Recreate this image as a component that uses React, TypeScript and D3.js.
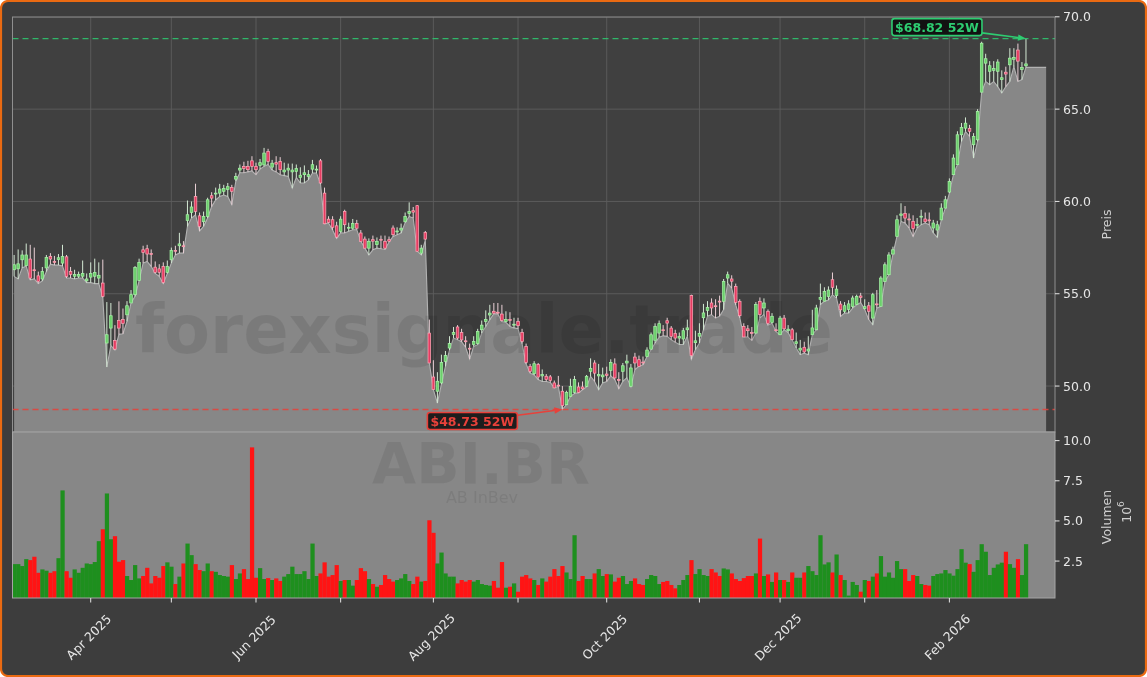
import React from "react";
import * as d3 from "d3";

// ---- calendar (Euronext Brussels trading days) ----
const START_DATE = "2025-03-05";
const END_DATE = "2026-02-27";
const HOLIDAYS = ["2025-04-18", "2025-04-21", "2025-05-01", "2025-12-25", "2025-12-26", "2026-01-01"];

// ---- daily OHLC (EUR) ----
const open = [
  56.30, 56.35, 56.84, 56.52, 56.88, 56.30, 55.97, 55.80, 56.40, 57.02,
  56.75, 56.85, 56.66, 57.00, 56.20, 55.95, 55.95, 55.95, 55.70, 55.90,
  55.95, 55.85, 55.58, 52.33, 53.14, 52.47, 53.56, 53.60, 53.86, 54.50,
  54.95, 55.72, 57.38, 57.44, 57.18, 56.44, 56.35, 56.48, 56.16, 56.84,
  57.35, 57.60, 57.60, 58.97, 59.40, 60.27, 59.22, 58.90, 59.19, 60.31,
  60.40, 60.45, 60.55, 60.65, 60.75, 61.21, 61.70, 61.90, 61.90, 62.20,
  61.90, 61.95, 61.98, 62.71, 61.86, 62.10, 62.17, 61.60, 61.70, 61.60,
  61.62, 61.30, 61.45, 61.35, 61.75, 61.70, 62.20, 60.45, 59.04, 59.01,
  58.68, 58.38, 59.46, 58.55, 58.55, 58.80, 58.29, 57.96, 57.47, 57.93,
  57.66, 57.95, 57.84, 57.93, 58.56, 58.35, 58.45, 58.90, 59.35, 59.50,
  59.77, 57.20, 58.32, 52.87, 50.49, 49.72, 50.17, 51.34, 52.06, 52.80,
  53.20, 52.90, 52.45, 52.05, 52.25, 52.30, 53.05, 53.50, 53.85, 54.05,
  54.00, 53.90, 53.50, 53.60, 53.30, 53.50, 52.91, 52.15, 51.07, 50.67,
  51.16, 50.55, 50.53, 50.50, 50.17, 50.05, 49.72, 48.99, 49.44, 49.66,
  49.95, 49.95, 49.98, 50.80, 51.25, 50.55, 50.50, 50.65, 50.85, 51.20,
  50.35, 50.80, 51.25, 49.99, 51.57, 51.43, 51.30, 51.60, 52.00, 52.48,
  52.87, 53.05, 53.54, 53.14, 52.85, 52.60, 52.55, 53.05, 54.90, 52.35,
  52.70, 53.70, 54.10, 54.50, 54.35, 54.60, 54.59, 55.85, 55.80, 55.40,
  54.59, 53.23, 53.10, 52.90, 52.87, 54.59, 54.23, 54.05, 53.45, 53.05,
  52.78, 53.68, 53.00, 53.05, 52.30, 51.95, 52.10, 51.90, 52.78, 53.05,
  54.70, 54.60, 54.85, 55.76, 54.90, 54.44, 54.05, 54.15, 54.31, 54.41,
  54.88, 54.20, 54.35, 53.68, 54.45, 54.32, 55.67, 56.03, 57.15, 58.11,
  59.25, 59.35, 59.05, 58.92, 58.70, 59.15, 59.05, 59.00, 58.56, 58.45,
  59.00, 59.64, 60.51, 61.45, 61.99, 63.61, 63.97, 63.95, 63.07, 63.34,
  65.92, 67.49, 67.05, 67.10, 67.05, 66.60, 67.00, 67.40, 67.70, 68.20,
  67.15, 67.35,
];
const high = [
  57.10, 57.40, 57.35, 57.72, 57.65, 57.50, 56.20, 56.45, 57.10, 57.20,
  57.05, 57.15, 57.65, 57.10, 56.45, 56.30, 56.20, 56.80, 56.10, 56.70,
  56.90, 56.70, 56.85, 54.55, 54.50, 53.30, 54.59, 54.20, 54.60, 55.20,
  56.50, 56.90, 57.60, 57.65, 57.40, 56.75, 56.60, 56.70, 56.80, 57.50,
  57.60, 58.30, 57.85, 60.05, 60.00, 60.96, 59.40, 59.45, 60.20, 60.50,
  60.75, 60.95, 60.90, 61.00, 60.90, 61.55, 62.00, 62.15, 62.20, 62.45,
  62.10, 62.30, 62.90, 62.85, 62.25, 62.45, 62.40, 62.10, 62.05, 62.05,
  62.00, 61.85, 61.95, 61.70, 62.25, 61.95, 62.30, 60.75, 59.20, 59.20,
  58.90, 59.20, 59.55, 58.85, 59.05, 59.00, 58.45, 58.10, 58.00, 58.15,
  58.05, 58.15, 58.15, 58.10, 58.70, 58.60, 58.80, 59.40, 59.95, 59.70,
  59.80, 57.65, 58.40, 53.60, 51.40, 50.75, 51.70, 51.90, 52.70, 53.20,
  53.30, 53.10, 52.70, 52.30, 52.70, 53.10, 53.55, 54.10, 54.40, 54.50,
  54.50, 54.40, 54.05, 54.00, 53.70, 53.70, 53.10, 52.30, 51.20, 51.35,
  51.25, 50.90, 50.65, 50.60, 50.30, 50.55, 50.00, 49.75, 50.40, 50.55,
  50.20, 50.25, 50.60, 51.50, 51.40, 51.20, 51.00, 51.05, 51.45, 51.50,
  50.75, 51.25, 51.70, 51.20, 51.80, 51.65, 51.60, 52.10, 52.90, 53.40,
  53.55, 53.30, 53.70, 53.25, 53.05, 52.90, 53.15, 53.60, 54.95, 53.00,
  53.40, 54.45, 54.60, 54.75, 54.70, 54.90, 55.80, 56.20, 56.00, 55.55,
  54.70, 53.40, 53.30, 53.20, 54.55, 54.80, 54.75, 54.15, 53.95, 53.40,
  53.80, 53.85, 53.30, 53.15, 52.90, 52.50, 52.40, 52.70, 54.13, 54.40,
  55.55, 55.35, 55.40, 56.15, 55.45, 54.60, 54.55, 54.65, 54.90, 54.95,
  55.05, 54.70, 54.55, 55.05, 55.20, 55.95, 56.70, 57.25, 57.55, 59.25,
  59.90, 59.75, 59.35, 59.25, 59.10, 59.55, 59.40, 59.40, 59.00, 58.95,
  59.90, 60.30, 61.25, 62.55, 63.80, 64.25, 64.55, 64.15, 63.70, 65.00,
  68.65, 68.00, 67.60, 67.60, 67.70, 67.10, 67.30, 68.30, 68.30, 68.55,
  67.55, 68.82,
];
const low = [
  55.94, 55.80, 56.40, 56.50, 55.75, 55.80, 55.55, 55.70, 56.20, 56.60,
  56.55, 56.55, 56.50, 55.85, 55.85, 55.80, 55.85, 55.85, 55.60, 55.60,
  55.55, 55.55, 54.80, 51.03, 52.20, 51.95, 52.80, 52.83, 53.50, 54.50,
  54.86, 55.70, 56.66, 56.75, 56.48, 56.10, 55.94, 55.55, 56.10, 56.66,
  57.10, 57.20, 57.20, 58.65, 59.10, 59.28, 58.40, 58.65, 59.10, 59.72,
  60.08, 60.27, 60.35, 60.27, 59.82, 61.10, 61.55, 61.55, 61.60, 61.65,
  61.45, 61.75, 61.90, 62.00, 61.70, 61.60, 61.45, 61.40, 61.35, 60.72,
  61.30, 61.00, 61.00, 61.17, 61.54, 61.54, 60.95, 58.79, 58.83, 58.45,
  58.00, 58.30, 58.29, 58.38, 58.47, 58.47, 57.84, 57.47, 57.10, 57.38,
  57.47, 57.44, 57.40, 57.80, 58.10, 58.20, 58.29, 58.85, 59.19, 59.10,
  57.30, 57.10, 57.90, 51.25, 49.81, 49.08, 50.10, 51.07, 51.95, 52.60,
  52.51, 52.40, 52.10, 51.46, 52.15, 52.24, 52.87, 53.23, 53.59, 53.92,
  53.90, 53.50, 53.45, 53.23, 53.15, 53.10, 52.30, 51.20, 50.70, 50.60,
  50.35, 50.25, 50.25, 50.20, 49.90, 49.98, 48.73, 48.99, 49.44, 49.60,
  49.63, 49.80, 49.95, 50.53, 50.25, 49.80, 50.17, 50.25, 50.55, 50.35,
  49.85, 50.25, 50.45, 49.95, 50.90, 51.07, 51.15, 51.60, 51.97, 52.33,
  52.65, 52.72, 52.69, 52.51, 52.37, 52.25, 52.25, 52.70, 51.45, 51.97,
  52.33, 53.05, 53.78, 53.87, 53.68, 53.78, 54.14, 55.58, 55.30, 54.40,
  53.70, 52.66, 52.66, 52.47, 52.87, 53.70, 53.87, 53.30, 53.40, 52.95,
  52.78, 53.05, 52.90, 52.49, 52.06, 51.70, 51.78, 51.70, 52.78, 53.05,
  54.41, 54.59, 54.66, 54.95, 54.77, 53.77, 53.95, 53.95, 54.22, 54.40,
  54.53, 54.15, 53.60, 53.32, 54.22, 54.32, 55.67, 56.03, 57.15, 58.11,
  58.92, 58.83, 58.56, 58.10, 58.56, 58.74, 58.83, 58.74, 58.30, 58.05,
  59.00, 59.64, 60.45, 61.45, 61.99, 63.25, 63.79, 63.52, 62.35, 63.25,
  65.92, 66.50, 66.32, 66.50, 66.22, 65.87, 66.22, 66.50, 67.30, 66.50,
  66.60, 67.26,
];
const close = [
  56.57, 56.62, 57.10, 57.10, 55.85, 56.25, 55.67, 56.20, 56.97, 56.88,
  56.70, 56.95, 57.02, 55.94, 56.05, 56.05, 56.05, 56.10, 55.80, 56.10,
  56.15, 56.00, 54.86, 52.78, 53.81, 52.00, 53.14, 53.40, 54.35, 54.95,
  56.43, 56.70, 57.24, 57.15, 57.12, 56.16, 56.16, 55.61, 56.48, 57.35,
  57.30, 57.70, 57.55, 59.28, 59.70, 59.46, 58.65, 59.18, 60.09, 60.18,
  60.45, 60.67, 60.70, 60.80, 60.55, 61.35, 61.80, 61.78, 61.72, 61.90,
  61.72, 62.10, 62.62, 62.17, 62.07, 62.02, 61.72, 61.70, 61.80, 61.70,
  61.78, 61.42, 61.55, 61.45, 61.99, 61.75, 61.00, 58.79, 58.86, 58.60,
  58.07, 59.04, 58.74, 58.60, 58.80, 58.55, 57.84, 57.47, 57.84, 57.85,
  57.84, 57.90, 57.47, 57.85, 58.20, 58.40, 58.55, 59.19, 59.45, 59.42,
  57.30, 57.47, 57.96, 51.25, 49.81, 50.26, 51.28, 51.65, 52.30, 52.91,
  52.60, 52.50, 52.40, 52.00, 52.42, 52.96, 53.30, 53.60, 53.95, 53.95,
  53.95, 53.55, 53.60, 53.55, 53.35, 53.27, 52.42, 51.28, 50.80, 51.21,
  50.49, 50.62, 50.35, 50.30, 49.90, 50.00, 48.94, 49.66, 49.98, 50.35,
  49.66, 49.85, 50.53, 50.95, 50.70, 50.62, 50.60, 50.58, 51.28, 50.44,
  50.30, 51.10, 51.35, 50.98, 51.25, 51.07, 51.25, 51.95, 52.78, 53.23,
  53.38, 53.00, 53.41, 52.69, 52.60, 52.68, 53.00, 53.15, 51.65, 52.45,
  52.85, 53.96, 54.25, 54.23, 54.30, 54.55, 55.67, 56.03, 55.68, 54.53,
  53.81, 52.66, 53.00, 52.85, 54.41, 53.87, 54.50, 53.40, 53.78, 53.00,
  53.68, 53.10, 53.08, 52.51, 52.40, 52.05, 51.85, 52.00, 53.15, 54.23,
  54.80, 55.13, 55.20, 55.35, 55.25, 54.13, 54.35, 54.45, 54.77, 54.86,
  54.80, 54.30, 54.05, 54.95, 54.40, 55.85, 56.57, 57.10, 57.38, 59.01,
  59.32, 59.10, 59.00, 58.53, 58.76, 59.20, 58.90, 58.95, 58.83, 58.74,
  59.64, 60.09, 61.08, 62.35, 63.61, 64.01, 64.24, 63.80, 63.52, 64.87,
  68.57, 67.73, 67.35, 67.20, 67.55, 66.70, 66.90, 67.76, 67.80, 67.60,
  67.25, 67.45,
];
// ---- daily volume, millions of shares ----
const volumeM = [
  2.31, 2.31, 2.19, 2.62, 2.56, 2.77, 1.77, 1.98, 1.90, 1.77,
  1.87, 2.68, 6.90, 1.87, 1.46, 1.98, 1.77, 2.08, 2.35, 2.31,
  2.44, 3.74, 4.48, 6.71, 3.86, 4.05, 2.46, 2.56, 1.57, 1.32,
  2.25, 1.42, 1.57, 2.08, 1.11, 1.57, 1.46, 2.19, 2.42, 2.15,
  1.07, 1.53, 2.35, 3.59, 2.87, 2.31, 1.94, 1.87, 2.35, 1.87,
  1.83, 1.63, 1.57, 1.53, 2.25, 1.38, 1.73, 2.00, 1.38, 9.58,
  1.46, 2.06, 1.38, 1.44, 1.32, 1.42, 1.26, 1.53, 1.69, 2.15,
  1.69, 1.69, 1.87, 1.38, 3.59, 1.57, 1.73, 2.42, 1.53, 1.63,
  2.25, 1.26, 1.32, 1.32, 0.97, 1.32, 2.06, 1.87, 1.38, 1.07,
  0.90, 1.01, 1.63, 1.38, 1.22, 1.32, 1.42, 1.69, 1.26, 1.07,
  1.53, 1.22, 1.26, 5.04, 4.26, 2.35, 3.03, 1.73, 1.53, 1.53,
  1.11, 1.32, 1.22, 1.32, 1.22, 1.32, 1.07, 1.01, 0.97, 1.26,
  0.84, 2.44, 0.84, 0.90, 1.11, 0.59, 1.53, 1.63, 1.42, 1.32,
  1.01, 1.42, 1.22, 1.53, 2.00, 1.57, 2.19, 1.79, 1.38, 4.11,
  1.26, 1.57, 1.38, 1.38, 1.73, 2.00, 1.57, 1.69, 1.67, 1.22,
  1.46, 1.57, 1.07, 1.26, 1.42, 1.07, 1.01, 1.38, 1.63, 1.57,
  1.07, 1.20, 1.26, 1.01, 0.80, 1.01, 1.32, 1.63, 2.56, 1.69,
  2.00, 1.63, 1.57, 2.00, 1.79, 1.57, 2.04, 1.98, 1.73, 1.38,
  1.26, 1.44, 1.57, 1.57, 1.73, 3.90, 1.57, 1.67, 1.20, 1.79,
  1.32, 1.32, 1.20, 1.79, 1.46, 1.46, 1.79, 2.19, 1.87, 1.63,
  4.11, 2.29, 2.42, 1.79, 2.91, 1.63, 1.32, 0.35, 1.20, 1.01,
  0.59, 1.32, 1.26, 1.53, 1.73, 2.81, 1.53, 1.79, 1.46, 2.50,
  2.00, 2.00, 1.26, 1.63, 1.57, 1.07, 1.01, 0.97, 1.57, 1.69,
  1.73, 1.94, 1.73, 1.59, 2.00, 3.24, 2.40, 2.31, 1.83, 2.56,
  3.55, 3.08, 1.63, 2.08, 2.29, 2.40, 3.08, 2.31, 2.08, 2.62,
  1.63, 3.55,
];
// the shaded low-price area runs on flat past the last session to this index
const AREA_TAIL_INDEX = 256;

const priceTicks = [50, 55, 60, 65, 70];
const volumeTicks = [2.5, 5, 7.5, 10];
const WATERMARK = "forexsignale.trade";
const TICKER = "ABI.BR";
const COMPANY = "AB InBev";
const PRICE_LABEL = "Preis";
const VOLUME_LABEL = "Volumen";

function tradingDays(start: string, end: string, holidays: string[]) {
  const hol = new Set(holidays);
  const out: Date[] = [];
  const endT = new Date(end + "T00:00:00Z").getTime();
  for (let t = new Date(start + "T00:00:00Z").getTime(); t <= endT; t += 86400000) {
    const d = new Date(t);
    const wd = d.getUTCDay();
    if (wd === 0 || wd === 6) continue;
    if (hol.has(d.toISOString().slice(0, 10))) continue;
    out.push(d);
  }
  return out;
}

const FONT = "DejaVu Sans, Verdana, sans-serif";

export default function App() {
  const W = 1147, H = 677;
  const L = 12.5, R = 1055, PT = 17, PB = 432, VB = 598;

  const dates = tradingDays(START_DATE, END_DATE, HOLIDAYS);
  const n = close.length;
  const idx = d3.range(n);

  const hiMax = d3.max(high)!;
  const loMin = d3.min(low)!;
  const hiIdx = high.indexOf(hiMax);
  const loIdx = low.indexOf(loMin);

  const x = d3.scaleLinear().domain([-0.4, 258.2]).range([L, R]);
  const y = d3.scaleLinear().domain([loMin * 0.975, hiMax * 1.017]).range([PB, PT]);
  const vMax = d3.max(volumeM)!;
  const yv = d3.scaleLinear().domain([0.2, vMax * 1.1]).range([VB, PB]);

  const step = x(1) - x(0);
  const bw = step * 0.65;

  const monthTicks = idx.filter(
    (i) => i > 0 && dates[i] && dates[i].getUTCMonth() !== dates[i - 1].getUTCMonth()
  );
  const fmt = d3.utcFormat("%b %Y");

  const areaPts: [number, number][] = idx.map((i) => [i, low[i]] as [number, number]);
  areaPts.push([AREA_TAIL_INDEX, low[n - 1]]);
  const areaGen = d3
    .area<[number, number]>()
    .x((d) => x(d[0]))
    .y0(PB)
    .y1((d) => y(d[1]));
  const lineGen = d3
    .line<[number, number]>()
    .x((d) => x(d[0]))
    .y((d) => y(d[1]));

  const upFill = "#6ccf6c", upStroke = "#a8f5a8", upWick = "#d3e8d3";
  const dnFill = "#e63c62", dnStroke = "#ffa8b8", dnWick = "#ead0d6";
  const volUp = "#1e8f1e", volDn = "#ff1414";
  const green = "#2ecc71", red = "#e8413a";
  const tickColor = "#e6e6e6";

  const annot = (
    label: string,
    tx: number,
    ty: number,
    cx: number,
    cy: number,
    color: string,
    key: string
  ) => {
    const bwBox = label.length * 8.2 + 8;
    const bh = 17;
    const dx = tx - cx, dy = ty - cy;
    const s = Math.min((bwBox / 2) / Math.abs(dx || 1e-6), (bh / 2) / Math.abs(dy || 1e-6));
    const sx = cx + dx * s, sy = cy + dy * s;
    const len = Math.hypot(tx - sx, ty - sy);
    const ux = (tx - sx) / len, uy = (ty - sy) / len;
    const hl = 8, hw = 3.2;
    const bx = tx - ux * hl, by = ty - uy * hl;
    const head = `M${tx},${ty}L${bx - uy * hw},${by + ux * hw}L${bx + uy * hw},${by - ux * hw}Z`;
    return (
      <g key={key}>
        <line x1={sx} y1={sy} x2={bx} y2={by} stroke={color} strokeWidth={1.6} />
        <path d={head} fill={color} />
        <rect
          x={cx - bwBox / 2}
          y={cy - bh / 2}
          width={bwBox}
          height={bh}
          rx={2.5}
          fill="rgba(10,10,10,0.85)"
          stroke={color}
          strokeWidth={1.6}
        />
        <text
          x={cx}
          y={cy}
          textAnchor="middle"
          dominantBaseline="central"
          fontFamily={FONT}
          fontWeight="bold"
          fontSize={12.5}
          fill={color}
        >
          {label}
        </text>
      </g>
    );
  };

  const hiX = x(hiIdx), hiY = y(hiMax);
  const loX = x(loIdx), loY = y(loMin);

  return (
    <div style={{ position: "fixed", left: 0, top: 0, width: W, height: H }}>
      <svg width={W} height={H} style={{ display: "block" }} fontFamily={FONT}>
        <defs>
          <clipPath id="priceClip">
            <rect x={L} y={PT} width={R - L} height={PB - PT} />
          </clipPath>
          <clipPath id="volClip">
            <rect x={L} y={PB} width={R - L} height={VB - PB} />
          </clipPath>
        </defs>
        <rect x={1} y={1} width={W - 2} height={H - 2} rx={7} fill="#3d3d3d" stroke="#ea6a12" strokeWidth={2.2} />

        {/* price panel */}
        <rect x={L} y={PT} width={R - L} height={PB - PT} fill="#404040" />
        <g clipPath="url(#priceClip)">
          {priceTicks.map((t) => (
            <line key={"hg" + t} x1={L} x2={R} y1={y(t)} y2={y(t)} stroke="#5d5d5d" strokeWidth={0.9} />
          ))}
          {monthTicks.map((i) => (
            <line key={"vg" + i} x1={x(i)} x2={x(i)} y1={PT} y2={PB} stroke="#5d5d5d" strokeWidth={0.9} />
          ))}
          <path d={areaGen(areaPts)!} fill="#878787" />
          <path d={lineGen(areaPts)!} fill="none" stroke="#b2b2b2" strokeWidth={1.1} />
          <text
            x={484}
            y={353}
            textAnchor="middle"
            fontFamily={FONT}
            fontWeight="bold"
            fontSize={67}
            fill="#000"
            fillOpacity={0.09}
          >
            {WATERMARK}
          </text>
          {idx.map((i) => {
            const up = close[i] >= open[i];
            const top = y(Math.max(open[i], close[i]));
            const bot = y(Math.min(open[i], close[i]));
            return (
              <g key={"c" + i}>
                <line x1={x(i)} x2={x(i)} y1={y(high[i])} y2={y(low[i])} stroke={up ? upWick : dnWick} strokeWidth={1} />
                <rect
                  x={x(i) - bw / 2}
                  y={top}
                  width={bw}
                  height={Math.max(bot - top, 0.9)}
                  fill={up ? upFill : dnFill}
                  stroke={up ? upStroke : dnStroke}
                  strokeWidth={0.7}
                />
              </g>
            );
          })}
          <line x1={L} x2={R} y1={hiY} y2={hiY} stroke={green} strokeWidth={1.4} strokeDasharray="6,4" opacity={0.85} />
          <line x1={L} x2={R} y1={loY} y2={loY} stroke={red} strokeWidth={1.4} strokeDasharray="6,4" opacity={0.85} />
        </g>
        <rect x={L} y={PT} width={R - L} height={PB - PT} fill="none" stroke="#8f8f8f" strokeWidth={1} />

        {/* volume panel */}
        <rect x={L} y={PB} width={R - L} height={VB - PB} fill="#878787" />
        <g clipPath="url(#volClip)">
          <text x={481} y={484} textAnchor="middle" fontFamily={FONT} fontWeight="bold" fontSize={57} fill="#000" fillOpacity={0.08}>
            {TICKER}
          </text>
          <text x={482} y={503} textAnchor="middle" fontFamily={FONT} fontSize={16} fill="#000" fillOpacity={0.08}>
            {COMPANY}
          </text>
          {idx.map((i) => (
            <rect
              key={"v" + i}
              x={x(i) - step / 2}
              y={yv(volumeM[i])}
              width={step + 0.2}
              height={VB - yv(volumeM[i])}
              fill={close[i] >= open[i] ? volUp : volDn}
            />
          ))}
        </g>
        <rect x={L} y={PB} width={R - L} height={VB - PB} fill="none" stroke="#a5a5a5" strokeWidth={1} />

        {/* annotations */}
        {annot(`$${hiMax.toFixed(2)} 52W`, hiX, hiY, hiX - 89, hiY - 11.5, green, "ahi")}
        {annot(`$${loMin.toFixed(2)} 52W`, loX, loY, loX - 90, loY + 11.5, red, "alo")}

        {/* right price axis */}
        {priceTicks.map((t) => (
          <g key={"pt" + t}>
            <line x1={R} x2={R + 4.5} y1={y(t)} y2={y(t)} stroke={tickColor} strokeWidth={1} />
            <text x={R + 8} y={y(t)} dominantBaseline="central" fontSize={12.5} fill={tickColor}>
              {t.toFixed(1)}
            </text>
          </g>
        ))}
        <text
          transform={`translate(1106,${(PT + PB) / 2}) rotate(-90)`}
          textAnchor="middle"
          dominantBaseline="central"
          fontSize={12.5}
          fill="#d0d0d0"
        >
          {PRICE_LABEL}
        </text>

        {/* right volume axis */}
        {volumeTicks.map((t) => (
          <g key={"vt" + t}>
            <line x1={R} x2={R + 4.5} y1={yv(t)} y2={yv(t)} stroke={tickColor} strokeWidth={1} />
            <text x={R + 8} y={yv(t)} dominantBaseline="central" fontSize={12.5} fill={tickColor}>
              {t.toFixed(1)}
            </text>
          </g>
        ))}
        <text
          transform={`translate(1106,${(PB + VB) / 2 + 2}) rotate(-90)`}
          textAnchor="middle"
          dominantBaseline="central"
          fontSize={12.5}
          fill="#d0d0d0"
        >
          {VOLUME_LABEL}
        </text>
        <text
          transform={`translate(1126,${(PB + VB) / 2 - 3}) rotate(-90)`}
          textAnchor="middle"
          dominantBaseline="central"
          fontSize={12.5}
          fill="#d0d0d0"
        >
          10
          <tspan dy={-5} fontSize={9}>
            6
          </tspan>
        </text>

        {/* bottom date axis */}
        {monthTicks.map((i) => (
          <line key={"xt" + i} x1={x(i)} x2={x(i)} y1={VB} y2={VB + 4.5} stroke={tickColor} strokeWidth={1} />
        ))}
        {monthTicks
          .filter((i) => dates[i].getUTCMonth() % 2 === 1)
          .map((i) => (
            <text
              key={"xl" + i}
              transform={`translate(${x(i) - 2},637) rotate(-45)`}
              textAnchor="middle"
              dominantBaseline="central"
              fontSize={12.5}
              fill={tickColor}
            >
              {fmt(dates[i])}
            </text>
          ))}
      </svg>
    </div>
  );
}
